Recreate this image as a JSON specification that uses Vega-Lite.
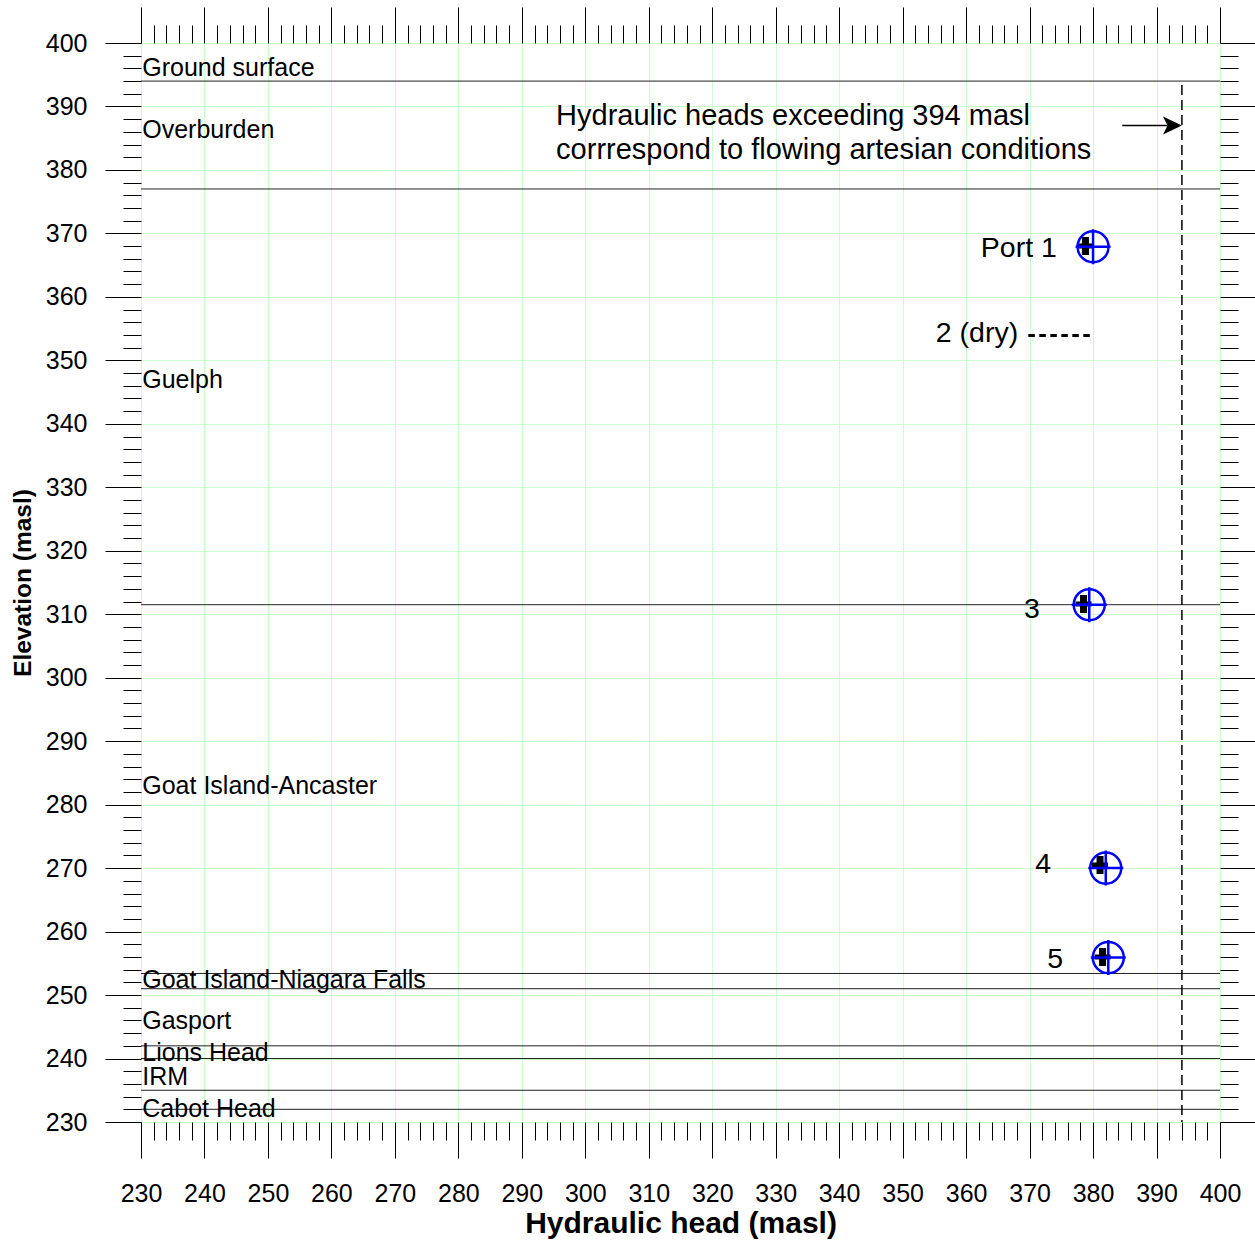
{
  "$schema": "https://vega.github.io/schema/vega-lite/v6.json",
  "width": 1079,
  "height": 1079,
  "autosize": {"type": "none"},
  "padding": {"left": 141, "top": 43, "right": 35, "bottom": 118},
  "background": "white",
  "config": {
    "view": {"stroke": "#444", "strokeWidth": 1},
    "font": "Liberation Sans",
    "axis": {"labelFont": "Liberation Sans", "titleFont": "Liberation Sans", "labelColor": "#000", "titleColor": "#000", "tickColor": "#000", "tickWidth": 1, "domain": false, "labelOverlap": false, "labelFlush": false, "labelBound": false}
  },
  "datasets": {
    "boundaries": [{"elev": 394}, {"elev": 377}, {"elev": 311.5}, {"elev": 253.4}, {"elev": 251}, {"elev": 242}, {"elev": 240}, {"elev": 235}, {"elev": 232}],
    "flowline": [{"head": 394, "elev": 393.4, "elev2": 230}],
    "arrowshaft": [{"head": 384.6, "head2": 392.5, "elev": 387}],
    "arrowhead": [{"head": 394, "elev": 387}],
    "dryline": [{"head": 369.8, "head2": 380.2, "elev": 353.9}],
    "blackplus": [{"head": 378.8, "elev": 368.0}, {"head": 378.5, "elev": 311.6}, {"head": 381.1, "elev": 270.5}, {"head": 381.5, "elev": 256.0}],
    "ports": [{"port": "1", "head": 380.0, "elev": 367.9}, {"port": "3", "head": 379.4, "elev": 311.5}, {"port": "4", "head": 382.0, "elev": 270.0}, {"port": "5", "head": 382.4, "elev": 255.9}],
    "portlabels": [{"label": "Port 1", "head": 374.3, "elev": 366.3}, {"label": "2 (dry)", "head": 368.2, "elev": 352.9}, {"label": "3", "head": 371.6, "elev": 309.4}, {"label": "4", "head": 373.4, "elev": 269.2}, {"label": "5", "head": 375.3, "elev": 254.3}],
    "annotation": [{"text": "Hydraulic heads exceeding 394 masl", "head": 295.4, "elev": 387.1}, {"text": "corrrespond to flowing artesian conditions", "head": 295.4, "elev": 381.8}],
    "units": [{"name": "Ground surface", "head": 230.2, "elev": 394.8}, {"name": "Overburden", "head": 230.2, "elev": 385.0}, {"name": "Guelph", "head": 230.2, "elev": 345.7}, {"name": "Goat Island-Ancaster", "head": 230.2, "elev": 281.6}, {"name": "Goat Island-Niagara Falls", "head": 230.2, "elev": 251.1}, {"name": "Gasport", "head": 230.2, "elev": 244.65}, {"name": "Lions Head", "head": 230.2, "elev": 239.6}, {"name": "IRM", "head": 230.2, "elev": 235.8}, {"name": "Cabot Head", "head": 230.2, "elev": 230.8}]
  },
  "resolve": {"axis": {"x": "independent", "y": "independent"}},
  "layer": [
    {
      "data": {"name": "boundaries"},
      "mark": {"type": "rule", "color": "#222", "strokeWidth": 1},
      "encoding": {
        "y": {"field": "elev", "type": "quantitative", "scale": {"domain": [230, 400], "nice": false, "zero": false}, "axis": null}
      }
    },
    {
      "data": {"name": "flowline"},
      "mark": {"type": "rule", "color": "#000", "strokeWidth": 1.5, "strokeDash": [10, 5]},
      "encoding": {
        "x": {"field": "head", "type": "quantitative", "scale": {"domain": [230, 400], "nice": false, "zero": false}, "axis": null},
        "y": {"field": "elev", "type": "quantitative", "scale": {"domain": [230, 400], "nice": false, "zero": false}, "axis": null},
        "y2": {"field": "elev2"}
      }
    },
    {
      "data": {"name": "arrowshaft"},
      "mark": {"type": "rule", "color": "#000", "strokeWidth": 1.3},
      "encoding": {
        "x": {"field": "head", "type": "quantitative", "scale": {"domain": [230, 400], "nice": false, "zero": false}, "axis": null},
        "x2": {"field": "head2"},
        "y": {"field": "elev", "type": "quantitative", "scale": {"domain": [230, 400], "nice": false, "zero": false}, "axis": null}
      }
    },
    {
      "data": {"name": "arrowhead"},
      "mark": {"type": "point", "shape": "M0,0L-2.1,-1L-1.6,0L-2.1,1Z", "filled": true, "color": "#000", "size": 324, "opacity": 1},
      "encoding": {
        "x": {"field": "head", "type": "quantitative", "scale": {"domain": [230, 400], "nice": false, "zero": false}, "axis": null},
        "y": {"field": "elev", "type": "quantitative", "scale": {"domain": [230, 400], "nice": false, "zero": false}, "axis": null}
      }
    },
    {
      "data": {"name": "dryline"},
      "mark": {"type": "rule", "color": "#000", "strokeWidth": 3, "strokeDash": [6.5, 4.5]},
      "encoding": {
        "x": {"field": "head", "type": "quantitative", "scale": {"domain": [230, 400], "nice": false, "zero": false}, "axis": null},
        "x2": {"field": "head2"},
        "y": {"field": "elev", "type": "quantitative", "scale": {"domain": [230, 400], "nice": false, "zero": false}, "axis": null}
      }
    },
    {
      "data": {"name": "blackplus"},
      "mark": {"type": "point", "shape": "M-3.5,-9L3.5,-9L3.5,-2.5L8,-2.5L8,2.5L3.5,2.5L3.5,9L-3.5,9L-3.5,2.5L-8,2.5L-8,-2.5L-3.5,-2.5Z", "filled": true, "color": "#000", "size": 4, "opacity": 1},
      "encoding": {
        "x": {"field": "head", "type": "quantitative", "scale": {"domain": [230, 400], "nice": false, "zero": false},
          "axis": {"orient": "bottom", "values": [232,234,236,238,242,244,246,248,252,254,256,258,262,264,266,268,272,274,276,278,282,284,286,288,292,294,296,298,302,304,306,308,312,314,316,318,322,324,326,328,332,334,336,338,342,344,346,348,352,354,356,358,362,364,366,368,372,374,376,378,382,384,386,388,392,394,396,398], "tickSize": 18, "labels": false, "grid": false, "title": null}},
        "y": {"field": "elev", "type": "quantitative", "scale": {"domain": [230, 400], "nice": false, "zero": false},
          "axis": {"orient": "left", "values": [232,234,236,238,242,244,246,248,252,254,256,258,262,264,266,268,272,274,276,278,282,284,286,288,292,294,296,298,302,304,306,308,312,314,316,318,322,324,326,328,332,334,336,338,342,344,346,348,352,354,356,358,362,364,366,368,372,374,376,378,382,384,386,388,392,394,396,398], "tickSize": 18, "labels": false, "grid": false, "title": null}}
      }
    },
    {
      "data": {"name": "ports"},
      "mark": {"type": "point", "shape": "circle", "filled": false, "stroke": "#0000ff", "strokeWidth": 2.5, "size": 962, "opacity": 1},
      "encoding": {
        "x": {"field": "head", "type": "quantitative", "scale": {"domain": [230, 400], "nice": false, "zero": false},
          "axis": {"orient": "bottom", "values": [230,240,250,260,270,280,290,300,310,320,330,340,350,360,370,380,390,400], "tickSize": 36, "labelFontSize": 25, "labelPadding": 23, "grid": true, "gridColor": "#ccffcc", "gridWidth": 1, "title": "Hydraulic head (masl)", "titleFontSize": 30, "titleFontWeight": "bold", "titleBaseline": "alphabetic", "titleY": 110}},
        "y": {"field": "elev", "type": "quantitative", "scale": {"domain": [230, 400], "nice": false, "zero": false},
          "axis": {"orient": "left", "values": [230,240,250,260,270,280,290,300,310,320,330,340,350,360,370,380,390,400], "tickSize": 36, "labelFontSize": 25, "labelPadding": 18, "grid": true, "gridColor": "#ccffcc", "gridWidth": 1, "title": "Elevation (masl)", "titleFontSize": 24.5, "titleFontWeight": "bold", "titleBaseline": "alphabetic", "titleX": -111}}
      }
    },
    {
      "data": {"name": "ports"},
      "mark": {"type": "point", "shape": "M-1,0L1,0M0,-1L0,1", "filled": false, "stroke": "#0000ff", "strokeWidth": 2.5, "size": 1225, "opacity": 1},
      "encoding": {
        "x": {"field": "head", "type": "quantitative", "scale": {"domain": [230, 400], "nice": false, "zero": false}, "axis": null},
        "y": {"field": "elev", "type": "quantitative", "scale": {"domain": [230, 400], "nice": false, "zero": false}, "axis": null}
      }
    },
    {
      "data": {"name": "portlabels"},
      "mark": {"type": "text", "align": "right", "baseline": "alphabetic", "fontSize": 28.5, "font": "Liberation Sans", "color": "#000"},
      "encoding": {
        "text": {"field": "label"},
        "x": {"field": "head", "type": "quantitative", "scale": {"domain": [230, 400], "nice": false, "zero": false},
          "axis": {"orient": "top", "values": [230,240,250,260,270,280,290,300,310,320,330,340,350,360,370,380,390,400], "tickSize": 36, "labels": false, "grid": false, "title": null}},
        "y": {"field": "elev", "type": "quantitative", "scale": {"domain": [230, 400], "nice": false, "zero": false},
          "axis": {"orient": "right", "values": [230,240,250,260,270,280,290,300,310,320,330,340,350,360,370,380,390,400], "tickSize": 36, "labels": false, "grid": false, "title": null}}
      }
    },
    {
      "data": {"name": "annotation"},
      "mark": {"type": "text", "align": "left", "baseline": "alphabetic", "fontSize": 29, "font": "Liberation Sans", "color": "#000"},
      "encoding": {
        "text": {"field": "text"},
        "x": {"field": "head", "type": "quantitative", "scale": {"domain": [230, 400], "nice": false, "zero": false},
          "axis": {"orient": "top", "values": [232,234,236,238,242,244,246,248,252,254,256,258,262,264,266,268,272,274,276,278,282,284,286,288,292,294,296,298,302,304,306,308,312,314,316,318,322,324,326,328,332,334,336,338,342,344,346,348,352,354,356,358,362,364,366,368,372,374,376,378,382,384,386,388,392,394,396,398], "tickSize": 18, "labels": false, "grid": false, "title": null}},
        "y": {"field": "elev", "type": "quantitative", "scale": {"domain": [230, 400], "nice": false, "zero": false},
          "axis": {"orient": "right", "values": [232,234,236,238,242,244,246,248,252,254,256,258,262,264,266,268,272,274,276,278,282,284,286,288,292,294,296,298,302,304,306,308,312,314,316,318,322,324,326,328,332,334,336,338,342,344,346,348,352,354,356,358,362,364,366,368,372,374,376,378,382,384,386,388,392,394,396,398], "tickSize": 18, "labels": false, "grid": false, "title": null}}
      }
    },
    {
      "data": {"name": "units"},
      "mark": {"type": "text", "align": "left", "baseline": "alphabetic", "fontSize": 25, "font": "Liberation Sans", "color": "#000"},
      "encoding": {
        "text": {"field": "name"},
        "x": {"field": "head", "type": "quantitative", "scale": {"domain": [230, 400], "nice": false, "zero": false}, "axis": null},
        "y": {"field": "elev", "type": "quantitative", "scale": {"domain": [230, 400], "nice": false, "zero": false}, "axis": null}
      }
    }
  ]
}
